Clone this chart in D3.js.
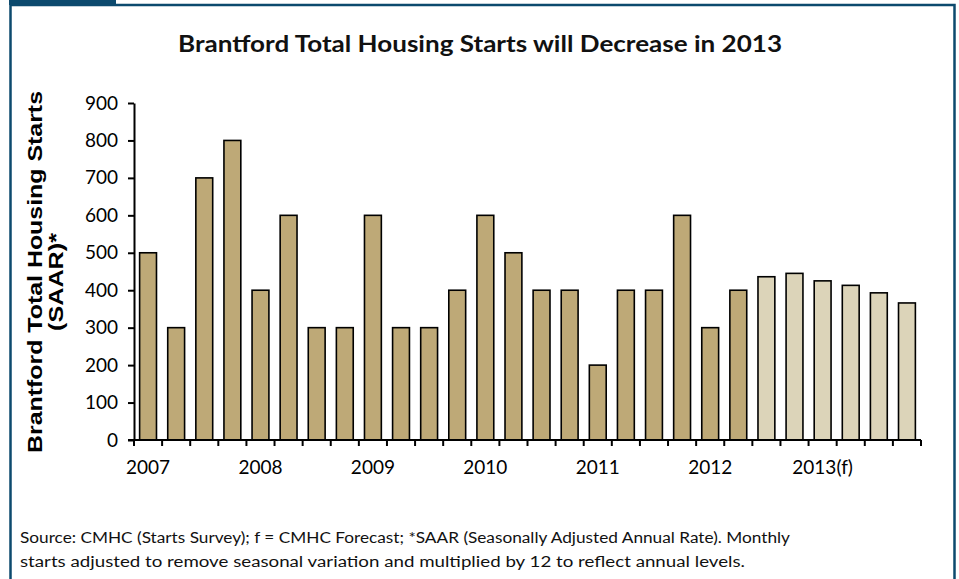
<!DOCTYPE html>
<html><head><meta charset="utf-8">
<script src="https://cdn.jsdelivr.net/npm/d3@7"></script>
<style>
html,body{margin:0;padding:0;background:#fff;}
svg{display:block;}
</style></head>
<body>
<svg id="c" width="959" height="579"></svg>
<script>
const categories = ["2007Q1","2007Q2","2007Q3","2007Q4","2008Q1","2008Q2","2008Q3","2008Q4",
  "2009Q1","2009Q2","2009Q3","2009Q4","2010Q1","2010Q2","2010Q3","2010Q4",
  "2011Q1","2011Q2","2011Q3","2011Q4","2012Q1","2012Q2","2012Q3","2012Q4",
  "2013Q1","2013Q2","2013Q3","2013Q4"];
const actual = [500,300,700,800,400,600,300,300,600,300,300,400,600,500,400,400,200,400,400,600,300,400,null,null,null,null,null,null];
const forecast = [null,null,null,null,null,null,null,null,null,null,null,null,null,null,null,null,null,null,null,null,null,null,436,445,425,413,393,366];
const yTicks = [0,100,200,300,400,500,600,700,800,900];
const xLabels = [{cat:"2007Q1",text:"2007"},{cat:"2008Q1",text:"2008"},{cat:"2009Q1",text:"2009"},
  {cat:"2010Q1",text:"2010"},{cat:"2011Q1",text:"2011"},{cat:"2012Q1",text:"2012"},{cat:"2013Q1",text:"2013(f)"}];
const title = "Brantford Total Housing Starts will Decrease in 2013";
const yTitle = ["Brantford Total Housing Starts","(SAAR)*"];
const source = ["Source: CMHC (Starts Survey); f = CMHC Forecast; *SAAR (Seasonally Adjusted Annual Rate).  Monthly",
  "starts adjusted to remove seasonal variation and multiplied by 12 to reflect annual levels."];

const svg = d3.select("#c");
const frame = "#0c4a6e";
const font = "Lato, 'Open Sans', sans-serif";

// frame
svg.append("rect").attr("x",9).attr("y",0).attr("width",107).attr("height",5).attr("fill",frame);
svg.append("path").attr("d","M10.5,600 V5 H954.5 V600").attr("fill","none").attr("stroke",frame).attr("stroke-width",2.5);

const pLeft = 134, pRight = 921, pTop = 103, pBottom = 440;
const x = d3.scaleBand().domain(categories).range([pLeft,pRight]).paddingInner(0.4).paddingOuter(0.2);
const y = d3.scaleLinear().domain([0,900]).range([pBottom,pTop]);

// title
svg.append("text").attr("x",480).attr("y",52).attr("text-anchor","middle")
  .attr("font-family",font).attr("font-weight","bold").attr("font-size",22.5)
  .attr("textLength",604).attr("lengthAdjust","spacingAndGlyphs")
  .attr("fill","#111").text(title);

// bars
const data = categories.map((c,i)=>({c, a:actual[i], f:forecast[i]}));
svg.append("g").selectAll("rect").data(data.filter(d=>d.a!=null)).join("rect")
  .attr("x",d=>x(d.c)).attr("width",x.bandwidth())
  .attr("y",d=>y(d.a)).attr("height",d=>y(0)-y(d.a))
  .attr("fill","#bea977").attr("stroke","#000").attr("stroke-width",1.6);
svg.append("g").selectAll("rect").data(data.filter(d=>d.f!=null)).join("rect")
  .attr("x",d=>x(d.c)).attr("width",x.bandwidth())
  .attr("y",d=>y(d.f)).attr("height",d=>y(0)-y(d.f))
  .attr("fill","#dcd4b9").attr("stroke","#000").attr("stroke-width",1.6);

// y axis
const yAxis = d3.axisLeft(y).tickValues(yTicks).tickSize(6).tickSizeOuter(0).tickPadding(10);
const gy = svg.append("g").attr("transform",`translate(${pLeft},0)`).call(yAxis);
gy.selectAll("text").attr("font-family",font).attr("font-size",19).attr("fill","#000");
gy.selectAll("line,path").attr("stroke","#000").attr("stroke-width",2);

// x axis: ticks at band boundaries
const boundaries = d3.range(categories.length+1).map(i=>pLeft + i*(pRight-pLeft)/categories.length);
const gx = svg.append("g");
gx.append("line").attr("x1",pLeft-6).attr("x2",pRight).attr("y1",pBottom).attr("y2",pBottom).attr("stroke","#000").attr("stroke-width",2);
gx.selectAll("line.t").data(boundaries).join("line").attr("class","t")
  .attr("x1",d=>d).attr("x2",d=>d).attr("y1",pBottom).attr("y2",pBottom+6)
  .attr("stroke","#000").attr("stroke-width",2);
gx.selectAll("text").data(xLabels).join("text")
  .attr("x",d=>x(d.cat)+x.bandwidth()/2).attr("y",pBottom+34)
  .attr("text-anchor","middle").attr("font-family",font).attr("font-size",19).attr("fill","#000")
  .text(d=>d.text);

// y title
const yt = svg.append("text").attr("transform","translate(0,272) rotate(-90)")
  .attr("text-anchor","middle").attr("font-family","'Liberation Sans', Arial, sans-serif")
  .attr("font-weight","bold").attr("font-size",20).attr("fill","#000");
yt.append("tspan").attr("x",0).attr("y",42).attr("textLength",362).attr("lengthAdjust","spacingAndGlyphs").text(yTitle[0]);
yt.append("tspan").attr("x",-10).attr("y",63).attr("textLength",98).attr("lengthAdjust","spacingAndGlyphs").text(yTitle[1]);

// source
svg.selectAll("text.src").data(source).join("text").attr("class","src")
  .attr("x",20).attr("y",(d,i)=>543+i*24)
  .attr("font-family",font).attr("font-size",15.5).attr("fill","#111")
  .attr("textLength",(d,i)=>i===0?770:725).attr("lengthAdjust","spacingAndGlyphs")
  .text(d=>d);
</script>
</body></html>
